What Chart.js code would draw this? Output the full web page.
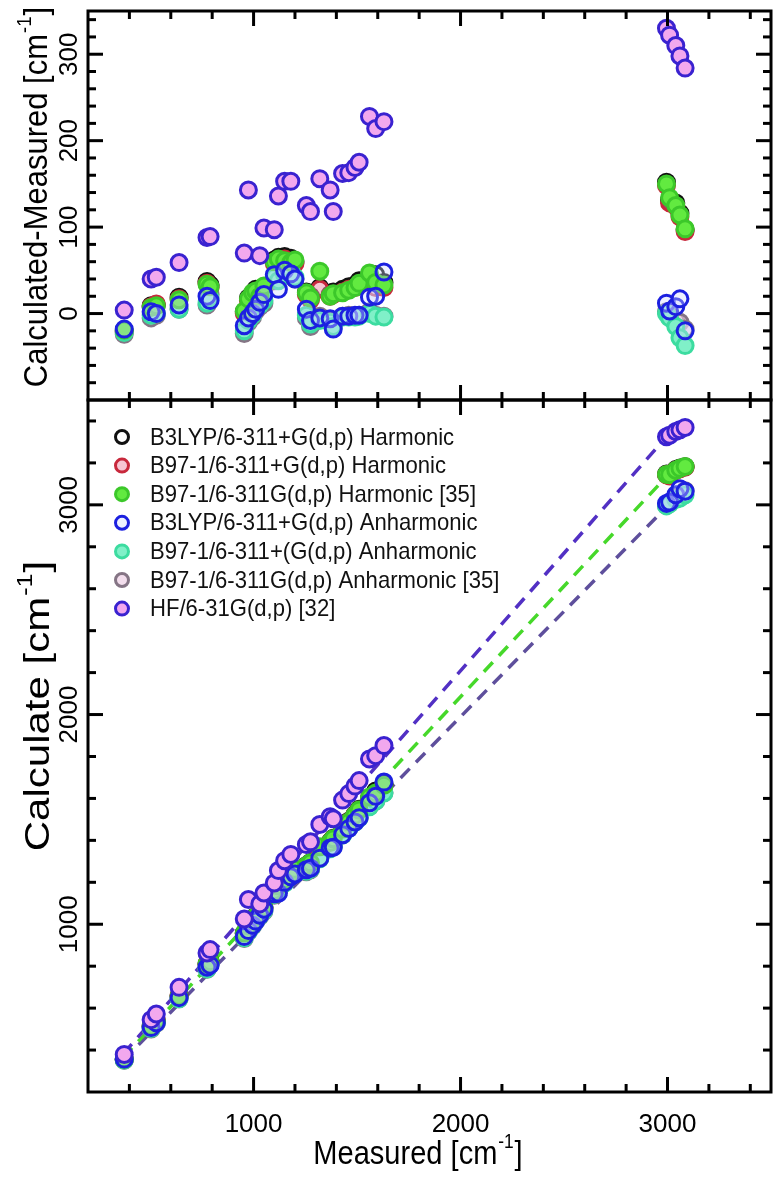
<!DOCTYPE html>
<html><head><meta charset="utf-8">
<script src="https://cdn.jsdelivr.net/npm/chart.js@4.4.1/dist/chart.umd.min.js"></script>
<style>
html,body{margin:0;padding:0;background:#fff;}
#wrap{position:relative;width:782px;height:1178px;overflow:hidden;}
canvas{position:absolute;left:0;top:0;}
</style></head><body>
<div id="wrap">
<canvas id="topChart" width="782" height="420"></canvas>
<canvas id="botChart" width="782" height="1178"></canvas>
</div>
<script>
// ---------------- data ----------------
const measured = [375, 505, 530, 640, 775, 790, 955, 975, 995, 1010, 1030, 1050, 1100, 1120, 1150, 1180, 1200, 1255, 1275, 1320, 1370, 1385, 1430, 1460, 1490, 1510, 1560, 1590, 1630, 2995, 3010, 3040, 3060, 3085];
// calculated - measured, per method
const b3lypHarm = [-20, 9, 10, 19, 37, 33, 2, 18, 22, 28, 25, 30, 62, 65, 66, 64, 60, 25, 20, 30, 22, 25, 28, 31, 33, 38, 42, 45, 36, 152, 131, 128, 116, 97];
const b97Harm   = [-21, 8, 11, 17, 35, 30, 0, 15, 20, 25, 22, 28, 58, 62, 63, 60, 58, 22, 16, 28, 20, 22, 25, 28, 30, 33, 38, 30, 30, 148, 128, 124, 112, 95];
const b97Harm35 = [-19, 7, 9, 16, 34, 31, 3, 17, 24, 26, 20, 32, 60, 63, 61, 59, 62, 24, 18, 49, 20, 23, 24, 27, 30, 35, 47, 36, 33, 150, 134, 125, 114, 98];
const b3lypAnh  = [-18, 2, 0, 10, 20, 15, -14, -5, 0, 5, 13, 22, 45, 28, 50, 46, 40, 5, -8, -5, -6, -18, -3, -3, -2, -2, 19, 20, 48, 12, 3, 8, 17, -20];
const b97Anh    = [-22, -2, 0, 5, 12, 18, -20, -8, -2, 6, 10, 15, 42, 38, 45, 50, 42, -2, -12, -8, -10, -15, -4, -4, -4, -3, 0, -3, -4, 0, -5, -15, -28, -37];
const b97Anh35  = [-24, -5, -2, 5, 10, 22, -23, -10, -4, 3, 8, 12, 38, 40, 48, 44, 40, -5, -15, -3, -8, -12, -3, -2, -3, -2, 2, -2, -3, 2, -3, -8, -10, -18];
const hf        = [4, 40, 42, 59, 88, 89, 70, 143, null, null, 67, 99, 97, 136, 153, 153, null, 125, 118, 156, 143, 118, 162, 163, 169, 175, 228, 214, 222, 330, 322, 310, 298, 284];
const seriesLabels = [
  'B3LYP/6-311+G(d,p) Harmonic',
  'B97-1/6-311+G(d,p) Harmonic',
  'B97-1/6-311G(d,p) Harmonic [35]',
  'B3LYP/6-311+G(d,p) Anharmonic',
  'B97-1/6-311+(G(d,p) Anharmonic',
  'B97-1/6-311G(d,p) Anharmonic [35]',
  'HF/6-31G(d,p) [32]'
];
// linear fits drawn in lower panel
const fitX    = [370, 3000];
const fitHF   = [382, 3330];
const fitHarm = [365, 3140];
const fitAnh  = [350, 2995];
// tick labels
const xTickLabels = [1000, 2000, 3000];
const topYTickLabels = [0, 100, 200, 300];
const botYTickLabels = [1000, 2000, 3000];

// ---------------- styles ----------------
const diffs = [b3lypHarm, b97Harm, b97Harm35, b3lypAnh, b97Anh, b97Anh35, hf];
const styles = [
  {border:'#111111', fill:'rgba(255,255,255,0)', order:6},
  {border:'#c8283c', fill:'rgba(240,150,175,0.55)', order:5},
  {border:'#3cc82a', fill:'#62ea40', order:2},
  {border:'#1c20e0', fill:'rgba(205,215,255,0.35)', order:1},
  {border:'#3cdca0', fill:'#80f0c8', order:3},
  {border:'#857585', fill:'rgba(235,200,225,0.6)', order:4},
  {border:'#3a22d0', fill:'#f2a8ee', order:0}
];
const FONT = '"Liberation Sans", Arial, Helvetica, sans-serif';

function makeSets(lower) {
  const sets = diffs.map((d, k) => {
    const pts = [];
    measured.forEach((m, i) => {
      if (d[i] === null) return;
      pts.push({x: m, y: lower ? m + d[i] : d[i]});
    });
    return {
      label: seriesLabels[k], data: pts, legend: true,
      pointRadius: 8, pointBorderWidth: 3,
      pointBorderColor: styles[k].border, pointBackgroundColor: styles[k].fill,
      borderColor: styles[k].border, backgroundColor: styles[k].fill,
      order: styles[k].order, showLine: false
    };
  });
  if (lower) {
    const fit = (ys, col) => ({
      label: 'fit', data: fitX.map((x, i) => ({x, y: ys[i]})), legend: false,
      showLine: true, borderColor: col, borderWidth: 3.5, borderDash: [13, 9],
      pointRadius: 0, fill: false, order: 10
    });
    sets.push(fit(fitHF, '#5230c4'), fit(fitHarm, '#46d82a'), fit(fitAnh, '#5e4f9c'));
  }
  return sets;
}

// ---------------- plugins ----------------
const framePlugin = {
  id: 'frame',
  afterDatasetsDraw(chart, args, o) {
    const {ctx, chartArea: a} = chart;
    const xs = chart.scales.x, ys = chart.scales.y;
    ctx.save();
    ctx.strokeStyle = '#000'; ctx.lineWidth = 3;
    const line = (x1, y1, x2, y2) => { ctx.beginPath(); ctx.moveTo(x1, y1); ctx.lineTo(x2, y2); ctx.stroke(); };
    const isMajor = (v, m) => Math.abs(v / m - Math.round(v / m)) < 1e-6;
    const startX = Math.ceil(xs.min / o.xMinor);
    for (let i = startX; i * o.xMinor <= xs.max; i++) {
      const v = i * o.xMinor, px = xs.getPixelForValue(v);
      if (px <= a.left + 2 || px >= a.right - 2) continue;
      const L = isMajor(v, o.xMajor) ? 15 : 8;
      line(px, a.top, px, a.top + L);
      line(px, a.bottom, px, a.bottom - L);
    }
    const startY = Math.ceil(ys.min / o.yMinor);
    for (let i = startY; i * o.yMinor <= ys.max; i++) {
      const v = i * o.yMinor, py = ys.getPixelForValue(v);
      if (py <= a.top + 2 || py >= a.bottom - 2) continue;
      const L = isMajor(v, o.yMajor) ? 15 : 8;
      line(a.left, py, a.left + L, py);
      line(a.right, py, a.right - L, py);
    }
    ctx.strokeRect(a.left, a.top, a.right - a.left, a.bottom - a.top);
    ctx.restore();
  }
};

function drawRich(ctx, cx, cy, size, rotate, lenScale, thickScale, main, sup, tail) {
  ctx.save();
  ctx.translate(cx, cy);
  if (rotate) ctx.rotate(-Math.PI / 2);
  ctx.scale(lenScale, thickScale);
  ctx.fillStyle = '#000';
  ctx.textBaseline = 'alphabetic';
  ctx.textAlign = 'left';
  const f = s => s + 'px ' + FONT;
  ctx.font = f(size); const w1 = ctx.measureText(main).width;
  ctx.font = f(size * 0.6); const w2 = ctx.measureText(sup).width;
  ctx.font = f(size); const w3 = ctx.measureText(tail).width;
  const total = w1 + w2 + w3 + 2;
  let x = -total / 2;
  const base = size * 0.36;
  ctx.font = f(size); ctx.fillText(main, x, base); x += w1 + 1;
  ctx.font = f(size * 0.6); ctx.fillText(sup, x, base - size * 0.48); x += w2 + 1;
  ctx.font = f(size); ctx.fillText(tail, x, base);
  ctx.restore();
}

const titlePlugin = {
  id: 'titles',
  afterDraw(chart, args, o) {
    const ctx = chart.ctx;
    (o.items || []).forEach(t => drawRich(ctx, t.x, t.y, t.size, t.rotate, t.len, t.thick, t.main, '-1', ']'));
  }
};

const legendPlugin = {
  id: 'innerLegend',
  afterDatasetsDraw(chart, args, o) {
    if (!o.show) return;
    const ctx = chart.ctx, a = chart.chartArea;
    const sets = chart.data.datasets.filter(d => d.legend);
    ctx.save();
    sets.forEach((d, i) => {
      const y = a.top + o.top + i * o.step;
      const x = a.left + o.left;
      ctx.beginPath();
      ctx.arc(x, y, 6.5, 0, Math.PI * 2);
      ctx.fillStyle = d.pointBackgroundColor; ctx.fill();
      ctx.lineWidth = 3; ctx.strokeStyle = d.pointBorderColor; ctx.stroke();
      ctx.save();
      ctx.translate(x + o.gap, y);
      ctx.scale(0.92, 1);
      ctx.fillStyle = '#111';
      ctx.font = o.size + 'px ' + FONT;
      ctx.textBaseline = 'middle';
      ctx.fillText(d.label, 0, 1);
      ctx.restore();
    });
    ctx.restore();
  }
};

const tickFont = {family: FONT, size: 26};
const fixedTicks = list => (s => { s.ticks = list.map(v => ({value: v})); });
const plainLabel = v => String(v);

// ---------------- top panel ----------------
new Chart(document.getElementById('topChart'), {
  type: 'scatter',
  data: {datasets: makeSets(false)},
  options: {
    responsive: false, animation: false, devicePixelRatio: 1,
    layout: {padding: {top: 8, right: 4, bottom: 20, left: 0}},
    plugins: {
      legend: {display: false}, tooltip: {enabled: false},
      frame: {xMinor: 200, xMajor: 1000, yMinor: 20, yMajor: 100},
      titles: {items: [{x: 35, y: 197, size: 31, rotate: true, len: 1, thick: 1.05, main: 'Calculated-Measured [cm'}]},
      innerLegend: {show: false}
    },
    scales: {
      x: {type: 'linear', min: 200, max: 3500, display: false},
      y: {
        type: 'linear', min: -100, max: 350,
        grid: {display: false}, border: {display: false},
        afterFit: s => { s.width = 88; },
        afterBuildTicks: fixedTicks(topYTickLabels),
        ticks: {autoSkip: false, minRotation: 90, maxRotation: 90,
          crossAlign: 'center', padding: -12, color: '#000', font: tickFont, callback: plainLabel}
      }
    }
  },
  plugins: [framePlugin, titlePlugin, legendPlugin]
});

// ---------------- bottom panel ----------------
new Chart(document.getElementById('botChart'), {
  type: 'scatter',
  data: {datasets: makeSets(true)},
  options: {
    responsive: false, animation: false, devicePixelRatio: 1,
    layout: {padding: {top: 400, right: 4, bottom: 0, left: 0}},
    plugins: {
      legend: {display: false}, tooltip: {enabled: false},
      frame: {xMinor: 200, xMajor: 1000, yMinor: 200, yMajor: 1000},
      titles: {items: [
        {x: 36, y: 706, size: 42, rotate: true, len: 1, thick: 0.85, main: 'Calculate [cm'},
        {x: 418, y: 1152, size: 33, rotate: false, len: 0.88, thick: 1, main: 'Measured [cm'}
      ]},
      innerLegend: {show: true, top: 37, step: 28.6, left: 34, gap: 28, size: 24}
    },
    scales: {
      x: {
        type: 'linear', min: 200, max: 3500,
        grid: {display: false}, border: {display: false},
        afterFit: s => { s.height = 86; },
        afterBuildTicks: fixedTicks(xTickLabels),
        ticks: {autoSkip: false, maxRotation: 0, minRotation: 0,
          padding: 9, color: '#000', font: tickFont, callback: plainLabel}
      },
      y: {
        type: 'linear', min: 200, max: 3500,
        grid: {display: false}, border: {display: false},
        afterFit: s => { s.width = 88; },
        afterBuildTicks: fixedTicks(botYTickLabels),
        ticks: {autoSkip: false, minRotation: 90, maxRotation: 90,
          crossAlign: 'center', padding: -19, color: '#000', font: tickFont, callback: plainLabel}
      }
    }
  },
  plugins: [framePlugin, titlePlugin, legendPlugin]
});
</script>
</body></html>
